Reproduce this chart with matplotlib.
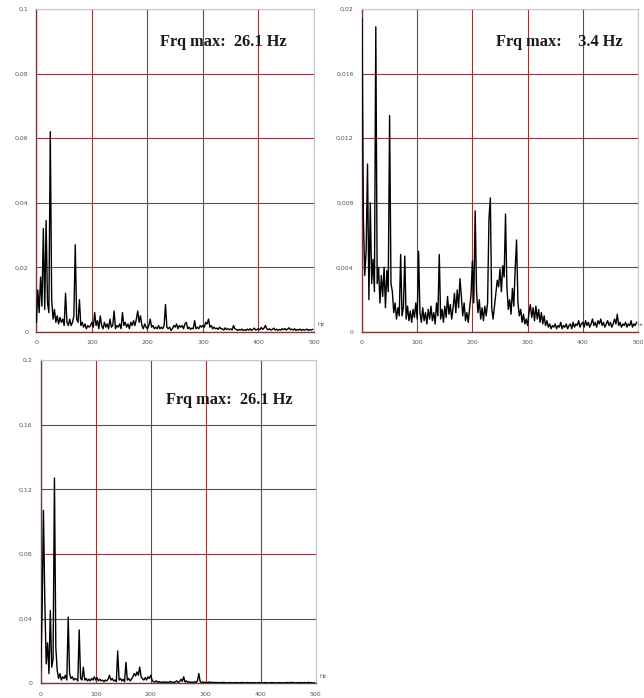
import numpy as np
import matplotlib
matplotlib.use("Agg")
import matplotlib.pyplot as plt
from matplotlib.ticker import FuncFormatter

# Frequency bins of the amplitude spectra (Hz)
freq = np.arange(200) * 2.5

# Amplitude spectrum, channel A (values x 0.001)
amp_a = [
    3, 13, 6, 17, 8, 32, 7, 34.5, 9, 6,
    62, 10, 4, 7, 3, 5, 2.5, 4.5, 3, 4,
    2, 12, 3, 2, 4, 2, 3, 5, 27, 4,
    3, 10, 2, 3, 1.5, 2.5, 1, 2, 1.5, 2,
    3, 1.5, 6, 2, 3.5, 1, 5, 2, 1, 3,
    1.5, 2.5, 1, 4, 1.5, 2, 6.5, 1, 2, 1.5,
    2.5, 1, 6, 2, 3, 1.5, 2.5, 1, 3, 2,
    3.5, 2, 4, 6.5, 3, 5, 2, 1, 2.5, 1.5,
    1, 2, 4, 1.5, 2, 1, 1.5, 1, 2, 1,
    1.5, 1, 2, 8.5, 1.5, 1, 1.5, 0.5, 1, 2,
    1.5, 2.5, 1, 2, 1.5, 2, 1, 2.5, 3, 1,
    1.5, 0.8, 1.2, 1, 3.5, 1, 1.5, 1, 2, 1.5,
    2, 1.5, 3, 2.5, 4, 1.5, 2, 1, 1.5, 1,
    1.2, 0.8, 1.5, 1, 1, 0.6, 1.3, 0.8, 1, 0.7,
    1, 0.6, 2, 1, 0.8, 0.5, 0.8, 0.6, 0.9, 0.5,
    0.7, 0.5, 0.9, 0.6, 1, 0.5, 0.8, 1.2, 0.6, 0.8,
    1, 0.7, 1.4, 0.8, 1.2, 2, 1, 0.7, 1, 0.6,
    0.8, 1.2, 0.6, 0.9, 0.5, 0.8, 0.6, 1, 0.7, 1.1,
    0.6, 0.9, 1.3, 0.7, 0.9, 0.6, 1, 0.5, 0.8, 0.6,
    0.9, 0.5, 0.8, 0.6, 0.7, 0.9, 0.5, 0.7, 0.6, 0.8,
]

# Amplitude spectrum, channel B (values x 0.001)
amp_b = [
    19.4, 7, 3.5, 5, 10.4, 2, 8, 3, 4.5, 2.5,
    18.9, 3, 4, 1.8, 3.5, 2.2, 4, 1.5, 3.8, 2.5,
    13.4, 3, 2.5, 1.2, 1.8, 0.8, 1.5, 1, 4.8, 1,
    1.5, 4.7, 0.8, 1.6, 0.7, 1.3, 0.6, 1.4, 0.9, 1.8,
    0.8, 5, 1.2, 0.6, 1.5, 0.7, 1.2, 0.5, 1.4, 0.8,
    1.6, 0.7, 1.2, 0.5, 1.8, 1, 4.8, 0.8, 1.4, 0.6,
    1.6, 0.9, 2.2, 1.1, 1.7, 0.8, 1.5, 2.4, 1.2, 2.6,
    1.5, 3.3, 2.2, 1, 1.8, 0.7, 1.2, 0.6, 1.5, 2.3,
    4.4, 1.8, 7.5, 2.5, 1.2, 2, 0.8, 1.5, 0.7, 1.6,
    1, 1.8, 7, 8.3, 1.5, 0.8, 1.6, 2.4, 3.2, 2.8,
    3.9, 2.5, 4.1, 3.4, 7.3, 2.8, 1.4, 2, 1.1, 2.7,
    1.6, 3.9, 5.7, 1.8, 1, 1.4, 0.6, 1.1, 0.5, 0.8,
    0.4, 1.2, 1.7, 0.9, 1.5, 0.7, 1.6, 0.8, 1.4, 0.6,
    1.2, 0.5, 1, 0.4, 0.7, 0.3, 0.5, 0.2, 0.4, 0.3,
    0.5, 0.2, 0.4, 0.3, 0.6, 0.2, 0.4, 0.3, 0.5, 0.2,
    0.4, 0.5, 0.2, 0.6, 0.3, 0.5, 0.4, 0.7, 0.3, 0.5,
    0.6, 0.3, 0.7, 0.4, 0.6, 0.3, 0.5, 0.8, 0.4, 0.6,
    0.3, 0.7, 0.5, 0.8, 0.4, 0.6, 0.3, 0.5, 0.7, 0.4,
    0.6, 0.3, 0.5, 0.8, 0.5, 1.1, 0.4, 0.6, 0.3, 0.5,
    0.4, 0.6, 0.3, 0.5, 0.4, 0.7, 0.3, 0.5, 0.4, 0.6,
]

# Amplitude spectrum, channel C (values x 0.001)
amp_c = [
    8, 43, 107, 50, 12, 25, 6, 45, 10, 15,
    127, 22, 8, 3, 6, 2, 4, 3, 5, 2,
    41, 6, 3, 4, 2, 3, 2.5, 1.5, 33, 3,
    2, 10, 2, 3, 1.5, 2.5, 1.5, 3, 2, 4,
    2, 3.5, 1.5, 2.5, 1.5, 2, 1, 2, 1.5, 2.5,
    5, 2, 3, 1.5, 2, 1, 20, 2, 3, 1.5,
    2.5, 1, 13, 2, 3, 1.5, 2.5, 4, 6, 4.5,
    7, 5, 10, 4, 3, 2, 3.5, 2, 4, 3,
    5, 2, 1, 0.8, 1.5, 0.6, 1, 0.5, 0.8, 0.5,
    1, 0.5, 0.8, 0.4, 1.2, 0.6, 0.8, 0.5, 1, 1.5,
    0.6, 1, 2.5, 1.2, 4, 0.8, 1.5, 0.6, 1, 0.5,
    0.8, 0.5, 1, 0.6, 1.5, 6, 1, 0.5, 0.8, 0.4,
    0.6, 0.3, 0.8, 0.5, 0.7, 0.3, 0.6, 0.4, 0.5, 0.3,
    0.5, 0.3, 0.6, 0.4, 0.5, 0.2, 0.4, 0.3, 0.5, 0.3,
    0.4, 0.2, 0.5, 0.3, 0.4, 0.2, 0.6, 0.3, 0.4, 0.2,
    0.5, 0.3, 0.4, 0.2, 0.5, 0.3, 0.4, 0.2, 0.3, 0.5,
    0.3, 0.4, 0.2, 0.5, 0.3, 0.4, 0.2, 0.3, 0.5, 0.3,
    0.4, 0.2, 0.3, 0.5, 0.3, 0.4, 0.2, 0.4, 0.3, 0.5,
    0.3, 0.4, 0.6, 0.3, 0.5, 0.2, 0.4, 0.3, 0.5, 0.3,
    0.4, 0.3, 0.5, 0.2, 0.4, 0.6, 0.3, 0.4, 0.2, 0.3,
]

# Peak-frequency annotations
peak_labels = ["Frq max:  26.1 Hz", "Frq max:    3.4 Hz", "Frq max:  26.1 Hz"]

# Y ranges and tick values of the three panels
y_max = [0.1, 0.02, 0.2]
y_ticks = [
    [0, 0.02, 0.04, 0.06, 0.08, 0.1],
    [0, 0.004, 0.008, 0.012, 0.016, 0.02],
    [0, 0.04, 0.08, 0.12, 0.16, 0.2],
]
x_ticks = [0, 100, 200, 300, 400, 500]

W, H = 644, 698
fig = plt.figure(figsize=(W / 100, H / 100), dpi=100)
fig.patch.set_facecolor("white")

# Axes rectangles in pixels: left, top, right, bottom
boxes = [
    (36.4, 9, 314, 332),
    (362, 9, 638, 332),
    (40.7, 360, 315.7, 683.3),
]
text_pos = [(0.445, 0.898), (0.486, 0.898), (0.456, 0.876)]
hz_pos = [(1.012, 0.022), (1.0, 0.022), (1.012, 0.022)]
hz_size = [4, 3.2, 4]

grid_col = "#8a3c3c"


def comma_fmt(v, pos):
    if v == 0:
        return "0"
    s = ("%.3f" % v).rstrip("0").rstrip(".")
    return s.replace(".", ",")


for i, amp in enumerate([amp_a, amp_b, amp_c]):
    l, t, r, b = boxes[i]
    ax = fig.add_axes([l / W, 1 - b / H, (r - l) / W, (b - t) / H])
    vals = np.array(amp) * 0.001
    ax.plot(freq, vals, color="black", lw=1.0, zorder=3)
    ax.set_xlim(0, 500)
    ax.set_ylim(0, y_max[i])
    ax.set_xticks(x_ticks)
    ax.set_yticks(y_ticks[i])
    ax.yaxis.set_major_formatter(FuncFormatter(comma_fmt))
    ax.tick_params(length=0, labelsize=4.5, colors="#555555", pad=6)
    ax.grid(True, color=grid_col, lw=0.8, zorder=1)
    for side in ["left", "bottom"]:
        ax.spines[side].set_color("#7a3a3a")
        ax.spines[side].set_linewidth(1.0)
    for side in ["top", "right"]:
        ax.spines[side].set_color("#c9c9c9")
        ax.spines[side].set_linewidth(0.8)
    ax.text(text_pos[i][0], text_pos[i][1], peak_labels[i],
            transform=ax.transAxes, ha="left", va="center",
            fontsize=11.8, fontweight="bold", family="Liberation Serif",
            color="#1a1a1a", zorder=4)
    ax.text(hz_pos[i][0], hz_pos[i][1], "Hz", transform=ax.transAxes,
            ha="left", va="center", fontsize=hz_size[i], color="#555555")

fig.savefig("out.png", dpi=100)
